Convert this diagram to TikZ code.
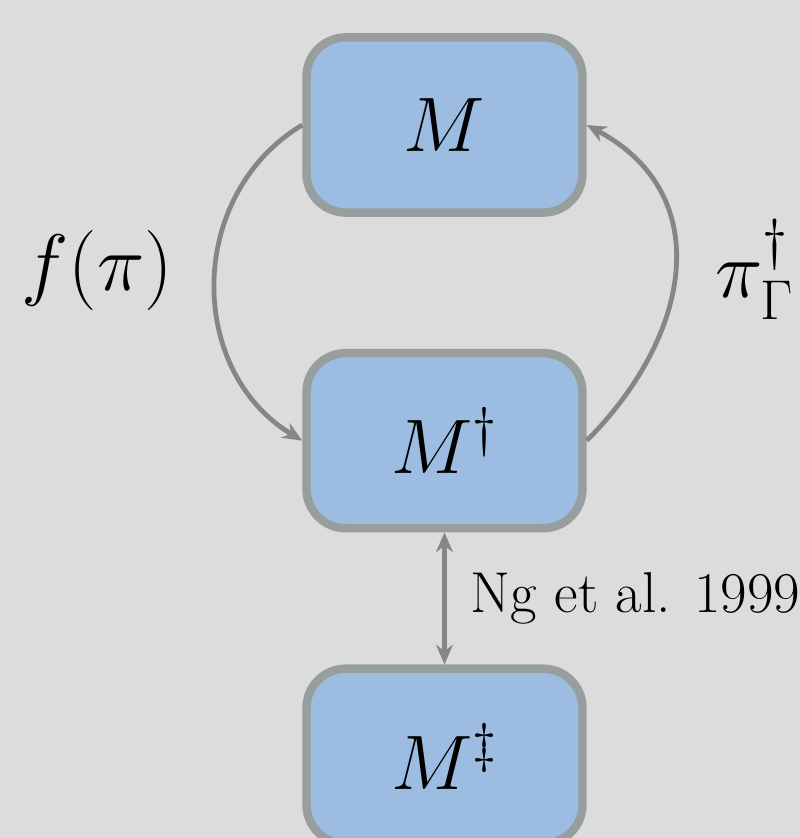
\RequirePackage{fix-cm}
\documentclass[tikz,border=0pt]{standalone}
\usepackage{amsmath}
\usetikzlibrary{arrows.meta,positioning}
\definecolor{figbg}{RGB}{220,220,220}
\definecolor{figfill}{RGB}{156,188,226}
\definecolor{figedge}{RGB}{152,158,158}
\definecolor{figarrow}{RGB}{134,134,134}
\tikzset{
  mbox/.style={draw=figedge,fill=figfill,line width=3pt,rounded corners=14pt,
               minimum width=3.45cm,minimum height=2.19cm,inner sep=0pt,
               font=\fontsize{27.5}{33}\selectfont},
  mlabel/.style={font=\fontsize{28.5}{34}\selectfont,text=black,inner sep=0pt},
  nlabel/.style={font=\fontsize{20.5}{25}\selectfont,text=black,inner sep=0pt},
  marrow/.style={-{Stealth[length=7pt,width=6pt]},figarrow,line width=1.7pt},
  mdouble/.style={{Stealth[length=7pt,width=6pt]}-{Stealth[length=7pt,width=6pt]},
                  figarrow,line width=1.7pt},
}
\begin{document}
\begin{tikzpicture}
  \useasboundingbox (0,0) rectangle (10,-10.475);
  \fill[figbg] (0,0) rectangle (10,-10.475);
  \clip (0,0) rectangle (10,-10.475);
  \node[mbox] (M) at (5.556,-1.5625) {$M$};
  \node[mbox,below=1.65cm of M] (Mdag) {$M^\dagger$};
  \node[mbox,below=1.65cm of Mdag] (Mddag) {$M^\ddagger$};
  \draw[marrow] (M.west) to[bend right=59,looseness=1.1]
        node[mlabel,left=0.5cm,yshift=0.15cm] (flab) {$f(\pi)$} (Mdag.west);
  \draw[marrow] (Mdag.east) to[out=45,in=-28,looseness=1.2]
        node[mlabel,right=0.48cm] (pilab) {$\pi_\Gamma^\dagger$} (M.east);
  \draw[mdouble] (Mdag) -- node[nlabel,right=0.3cm] (nglab) {Ng et al. 1999} (Mddag);
\end{tikzpicture}
\end{document}
